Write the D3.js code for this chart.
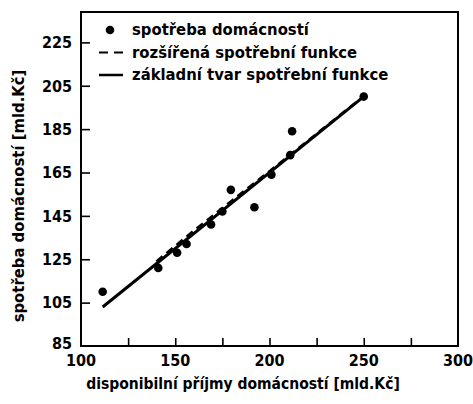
<!DOCTYPE html>
<html>
<head>
<meta charset="utf-8">
<script src="https://cdn.jsdelivr.net/npm/d3@7"></script>
<style>
  body { margin: 0; background: #fff; }
  text { font-family: "DejaVu Sans Condensed", "DejaVu Sans", sans-serif; fill: #000; }
</style>
</head>
<body>
<svg width="473" height="404"></svg>
<script>
// spotřeba domácností (body)
var incomes = [111.5, 141, 151, 156, 169, 175, 179.5, 192, 201, 211, 212, 250];
var consumption = [110, 121, 128, 132, 141, 147, 157, 149, 164, 173, 184, 200];

// základní tvar spotřební funkce (plná čára)
var basicX = [111.5, 249];
var basicY = [103, 199.3];

// rozšířená spotřební funkce (čárkovaně)
var extX = [140, 160, 180, 200, 220, 250];
var extY = [124, 138.3, 152, 165.6, 179.4, 200.2];

var xTicks = [125, 150, 175, 200, 225, 250, 275];
var xLabels = [100, 150, 200, 250, 300];
var yTicks = [105, 125, 145, 165, 185, 205, 225];
var yLabels = [85, 105, 125, 145, 165, 185, 205, 225];

var legendItems = ["spotřeba domácností", "rozšířená spotřební funkce", "základní tvar spotřební funkce"];

var svg = d3.select("svg"),
    margin = {top: 12, right: 15, bottom: 58, left: 81},
    width = +svg.attr("width") - margin.left - margin.right,
    height = +svg.attr("height") - margin.top - margin.bottom,
    g = svg.append("g").attr("transform", "translate(" + margin.left + "," + margin.top + ")");

var x = d3.scaleLinear().domain([100, 300]).range([0, width]);
var y = d3.scaleLinear().domain([85, 239]).range([height, 0]);

// frame
g.append("rect")
    .attr("width", width)
    .attr("height", height)
    .attr("fill", "none")
    .attr("stroke", "#000")
    .attr("stroke-width", 2);

// inward ticks
g.append("g")
    .attr("transform", "translate(0," + height + ")")
    .call(d3.axisBottom(x).tickValues(xTicks).tickSize(-8).tickFormat(""))
    .call(a => a.select(".domain").remove())
    .selectAll("line").attr("stroke-width", 1.6);

g.append("g")
    .call(d3.axisLeft(y).tickValues(yTicks).tickSize(-9).tickFormat(""))
    .call(a => a.select(".domain").remove())
    .selectAll("line").attr("stroke-width", 1.6);

// tick labels
g.selectAll(".xl")
    .data(xLabels)
    .enter().append("text")
    .attr("class", "xl")
    .attr("x", d => x(d))
    .attr("y", height + 20)
    .attr("text-anchor", "middle")
    .style("font-size", "16px")
    .style("font-weight", "bold")
    .text(d => d);

g.selectAll(".yl")
    .data(yLabels)
    .enter().append("text")
    .attr("class", "yl")
    .attr("x", -9)
    .attr("y", d => y(d) - (d === 85 ? 3 : 0))
    .attr("dy", "0.36em")
    .attr("text-anchor", "end")
    .style("font-size", "16px")
    .style("font-weight", "bold")
    .text(d => d);

// axis titles
svg.append("text")
    .attr("x", 243)
    .attr("y", 389)
    .attr("text-anchor", "middle")
    .style("font-size", "15.5px")
    .style("font-weight", "bold")
    .text("disponibilní příjmy domácností  [mld.Kč]");

svg.append("text")
    .attr("transform", "translate(24,196) rotate(-90)")
    .attr("text-anchor", "middle")
    .style("font-size", "16.5px")
    .style("font-weight", "bold")
    .text("spotřeba domácností  [mld.Kč]");

var line = d3.line()
    .x(d => x(d[0]))
    .y(d => y(d[1]));

g.append("path")
    .datum(d3.zip(extX, extY))
    .attr("d", line)
    .attr("fill", "none")
    .attr("stroke", "#000")
    .attr("stroke-width", 2.5)
    .attr("stroke-dasharray", "8,5");

g.append("path")
    .datum(d3.zip(basicX, basicY))
    .attr("d", line)
    .attr("fill", "none")
    .attr("stroke", "#000")
    .attr("stroke-width", 3);

g.selectAll(".pt")
    .data(d3.zip(incomes, consumption))
    .enter().append("circle")
    .attr("class", "pt")
    .attr("cx", d => x(d[0]))
    .attr("cy", d => y(d[1]))
    .attr("r", 4.3)
    .attr("fill", "#000");

// legend
var legend = svg.append("g").attr("transform", "translate(99,30)");
var rows = legend.selectAll("g")
    .data(legendItems)
    .enter().append("g")
    .attr("transform", (d, i) => "translate(0," + i * 22.5 + ")");

rows.filter((d, i) => i === 0).append("circle")
    .attr("cx", 11).attr("cy", 0).attr("r", 4.3).attr("fill", "#000");
rows.filter((d, i) => i === 1).append("line")
    .attr("x1", 0).attr("x2", 24).attr("y1", 0).attr("y2", 0)
    .attr("stroke", "#000").attr("stroke-width", 2).attr("stroke-dasharray", "9,6");
rows.filter((d, i) => i === 2).append("line")
    .attr("x1", 0).attr("x2", 24).attr("y1", 0).attr("y2", 0)
    .attr("stroke", "#000").attr("stroke-width", 2.5);

rows.append("text")
    .attr("x", 33)
    .attr("dy", "0.32em")
    .style("font-size", "16.5px")
    .style("font-weight", "bold")
    .text(d => d);
</script>
</body>
</html>
